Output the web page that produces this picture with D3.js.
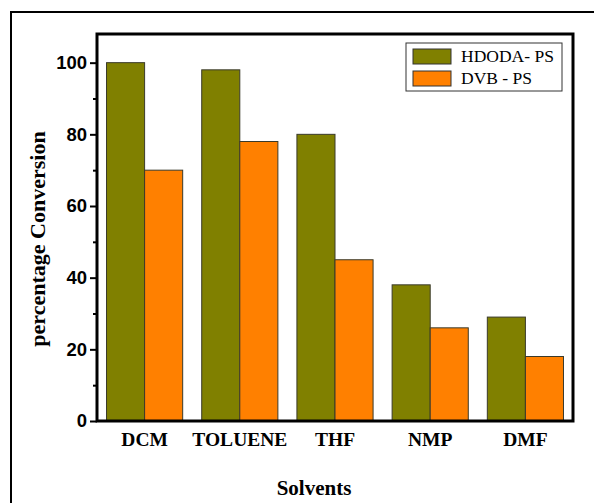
<!DOCTYPE html>
<html>
<head>
<meta charset="utf-8">
<script src="https://cdn.jsdelivr.net/npm/d3@7"></script>
<style>
  html, body { margin: 0; padding: 0; background: #fff; }
  svg { display: block; }
</style>
</head>
<body>
<svg id="chart" width="594" height="503"></svg>
<script>
// Solvent categories and conversion (%) for each crosslinked support
const solvents = ["DCM", "TOLUENE", "THF", "NMP", "DMF"];
const seriesNames = ["HDODA- PS", "DVB - PS"];
const hdodaPS = [100, 98, 80, 38, 29];
const dvbPS = [70, 78, 45, 26, 18];
const yTicks = [0, 20, 40, 60, 80, 100];
const yMinorTicks = [10, 30, 50, 70, 90];

const colors = ["#808000", "#FF8000"];
const series = [hdodaPS, dvbPS];

const svg = d3.select("#chart");

// outer border
svg.append("rect")
  .attr("x", 11).attr("y", 12)
  .attr("width", 700).attr("height", 700)
  .attr("fill", "none").attr("stroke", "#000").attr("stroke-width", 2);

const plot = { left: 97, right: 573, top: 34, bottom: 421 };

const x = d3.scaleBand()
  .domain(solvents)
  .range([plot.left, plot.right])
  .paddingInner(0.2)
  .paddingOuter(0.1);

const xs = d3.scaleBand()
  .domain(d3.range(seriesNames.length))
  .range([0, x.bandwidth()]);

const y = d3.scaleLinear()
  .domain([0, 108])
  .range([plot.bottom, plot.top]);

// bars
series.forEach((vals, si) => {
  svg.append("g")
    .selectAll("rect")
    .data(solvents)
    .join("rect")
    .attr("x", (d) => x(d) + xs(si))
    .attr("y", (d, i) => y(vals[i]))
    .attr("width", xs.bandwidth())
    .attr("height", (d, i) => y(0) - y(vals[i]))
    .attr("fill", colors[si])
    .attr("stroke", "#3a3a2a")
    .attr("stroke-width", 1);
});

// y axis: major ticks with labels
const yAxis = d3.axisLeft(y)
  .tickValues(yTicks)
  .tickSize(7)
  .tickPadding(3)
  .tickFormat(d3.format("d"));

const gy = svg.append("g")
  .attr("transform", `translate(${plot.left},0)`)
  .call(yAxis);
gy.select(".domain").remove();
gy.selectAll(".tick line").attr("stroke", "#000").attr("stroke-width", 2);
gy.selectAll(".tick text")
  .attr("font-family", "'Liberation Sans', Arial, sans-serif")
  .attr("font-weight", "bold")
  .attr("font-size", 18.5)
  .attr("fill", "#000");

// y axis minor ticks
const gyMinor = svg.append("g")
  .attr("transform", `translate(${plot.left},0)`)
  .call(d3.axisLeft(y).tickValues(yMinorTicks).tickSize(4).tickFormat(""));
gyMinor.select(".domain").remove();
gyMinor.selectAll(".tick line").attr("stroke", "#000").attr("stroke-width", 2);

// x axis category labels
const gx = svg.append("g")
  .attr("transform", `translate(0,${plot.bottom})`)
  .call(d3.axisBottom(x).tickSize(0).tickPadding(11));
gx.select(".domain").remove();
gx.selectAll(".tick text")
  .attr("font-family", "'Liberation Serif', 'Times New Roman', serif")
  .attr("font-weight", "bold")
  .attr("font-size", 19.5)
  .attr("fill", "#000");

// plot frame
svg.append("rect")
  .attr("x", plot.left).attr("y", plot.top)
  .attr("width", plot.right - plot.left)
  .attr("height", plot.bottom - plot.top)
  .attr("fill", "none").attr("stroke", "#000").attr("stroke-width", 3);

// axis titles
svg.append("text")
  .attr("x", 314)
  .attr("y", 495)
  .attr("text-anchor", "middle")
  .attr("font-family", "'Liberation Serif', 'Times New Roman', serif")
  .attr("font-weight", "bold")
  .attr("font-size", 21)
  .text("Solvents");

svg.append("text")
  .attr("transform", "translate(45,239) rotate(-90)")
  .attr("text-anchor", "middle")
  .attr("font-family", "'Liberation Serif', 'Times New Roman', serif")
  .attr("font-weight", "bold")
  .attr("font-size", 22)
  .text("percentage Conversion");

// legend
const legend = svg.append("g").attr("transform", "translate(406,43)");
legend.append("rect")
  .attr("width", 156).attr("height", 48)
  .attr("fill", "#fff").attr("stroke", "#333").attr("stroke-width", 1);
seriesNames.forEach((name, i) => {
  const row = legend.append("g").attr("transform", `translate(7,${6 + i * 22})`);
  row.append("rect")
    .attr("width", 38).attr("height", 15)
    .attr("fill", colors[i]).attr("stroke", "#333").attr("stroke-width", 1);
  row.append("text")
    .attr("x", 48).attr("y", 13)
    .attr("font-family", "'Liberation Serif', 'Times New Roman', serif")
    .attr("font-size", 17.5)
    .attr("fill", "#000")
    .text(name);
});
</script>
</body>
</html>
